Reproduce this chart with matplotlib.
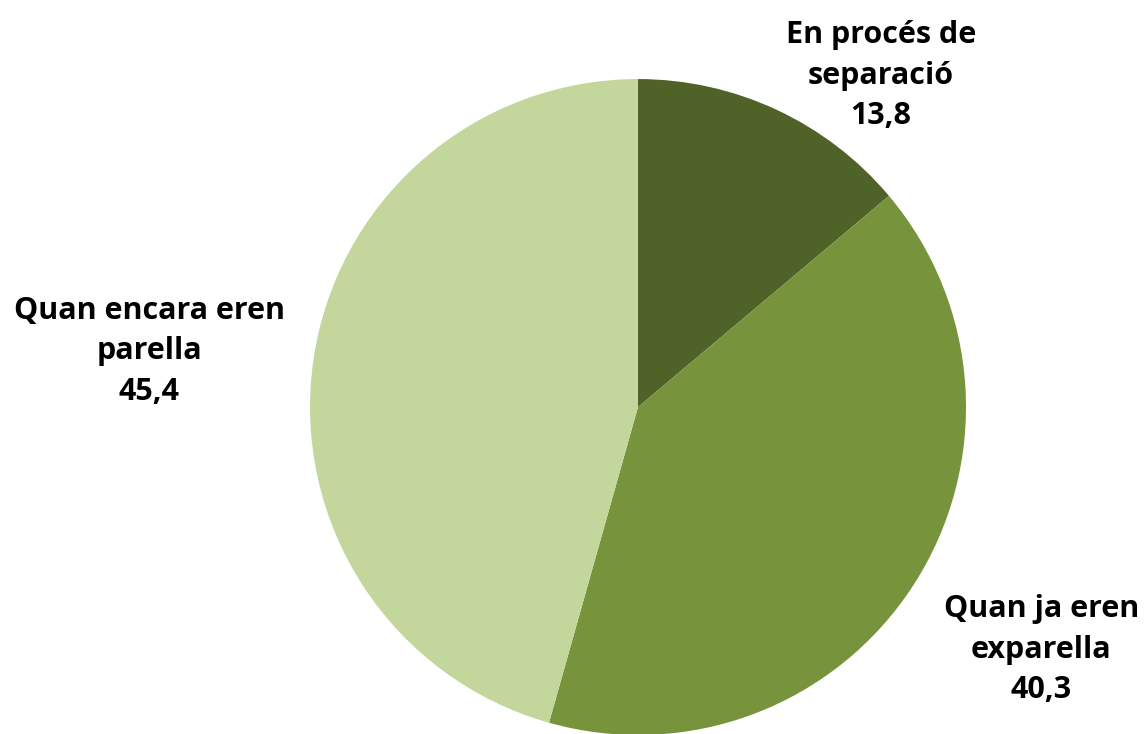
import matplotlib.pyplot as plt

# data
labels = ["En procés de\nseparació", "Quan ja eren\nexparella", "Quan encara eren\nparella"]
values = [13.8, 40.3, 45.4]
colors = ["#4F6228", "#77933C", "#C3D69B"]
# label anchors in pie units (radius = 1)
label_pos = [(0.74, 1.01), (1.23, -0.74), (-1.49, 0.17)]

fig = plt.figure(figsize=(11.44, 7.34), dpi=100)
ax = fig.add_axes([0.271, -0.0014, 0.5734, 0.8937])

ax.pie(values, colors=colors, startangle=90, counterclock=False, radius=1,
       wedgeprops={"linewidth": 0})
ax.set_xlim(-1, 1)
ax.set_ylim(-1, 1)
ax.set_aspect("equal")
ax.axis("off")

for lab, v, (x, y) in zip(labels, values, label_pos):
    txt = lab + "\n" + "{:.1f}".format(v).replace(".", ",")
    ax.text(x, y, txt, ha="center", va="center", fontsize=22, fontweight="bold",
            family="Open Sans", linespacing=1.45, color="black")

fig.savefig("out.png", dpi=100)
